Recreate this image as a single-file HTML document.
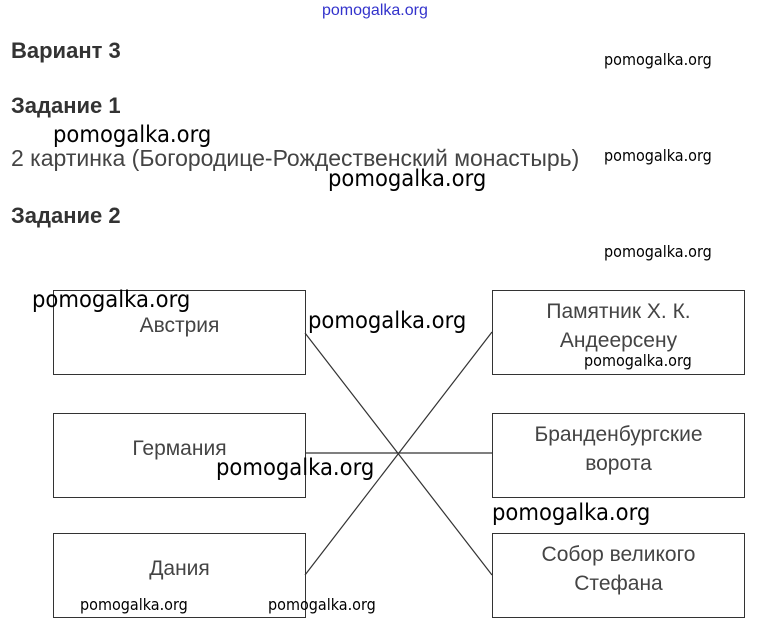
<!DOCTYPE html><html><head><meta charset="utf-8"><style>
body{margin:0;width:758px;height:643px;background:#fff;position:relative;overflow:hidden;font-family:"Liberation Sans",sans-serif}
.a{position:absolute;white-space:nowrap}
.h{font-weight:bold;font-size:22px;color:#333;left:11px}
.w{font-family:"DejaVu Sans Condensed","Liberation Sans",sans-serif;color:#000}
.s{font-size:16px}.b{font-size:23.5px}
.box{position:absolute;border:1.5px solid #333;box-sizing:border-box;width:253px;height:85px;display:flex;align-items:center;justify-content:center;text-align:center;font-size:21px;color:#444;line-height:29px;padding-bottom:14px}
</style></head><body>
<div class="a" style="left:322px;top:2px;font-size:16px;color:#3333cc">pomogalka.org</div>
<div class="a h" style="top:38px">Вариант 3</div>
<div class="a h" style="top:93px">Задание 1</div>
<div class="a" style="left:11px;top:145px;font-size:23px;color:#444">2 картинка (Богородице-Рождественский монастырь)</div>
<div class="a h" style="top:203px">Задание 2</div>
<div class="a w s" style="left:604px;top:50px">pomogalka.org</div>
<div class="a w s" style="left:604px;top:146px">pomogalka.org</div>
<div class="a w s" style="left:604px;top:242px">pomogalka.org</div>
<div class="a w b" style="left:53px;top:120px">pomogalka.org</div>
<div class="a w b" style="left:328px;top:164px">pomogalka.org</div>
<svg class="a" style="left:0;top:0" width="758" height="643"><g stroke="#333" stroke-width="1.2"><line x1="305" y1="333" x2="492" y2="575"/><line x1="305" y1="575" x2="492" y2="332"/><line x1="305" y1="453" x2="492" y2="453"/></g></svg>
<div class="box" style="left:53px;top:290px">Австрия</div>
<div class="box" style="left:53px;top:413px">Германия</div>
<div class="box" style="left:53px;top:533px">Дания</div>
<div class="box" style="left:492px;top:290px">Памятник Х. К.<br>Андеерсену</div>
<div class="box" style="left:492px;top:413px">Бранденбургские<br>ворота</div>
<div class="box" style="left:492px;top:533px">Собор великого<br>Стефана</div>
<div class="a w b" style="left:32px;top:285px">pomogalka.org</div>
<div class="a w b" style="left:308px;top:306px">pomogalka.org</div>
<div class="a w b" style="left:216px;top:453px">pomogalka.org</div>
<div class="a w b" style="left:492px;top:498px">pomogalka.org</div>
<div class="a w s" style="left:584px;top:351px">pomogalka.org</div>
<div class="a w s" style="left:80px;top:595px">pomogalka.org</div>
<div class="a w s" style="left:268px;top:595px">pomogalka.org</div>
</body></html>
